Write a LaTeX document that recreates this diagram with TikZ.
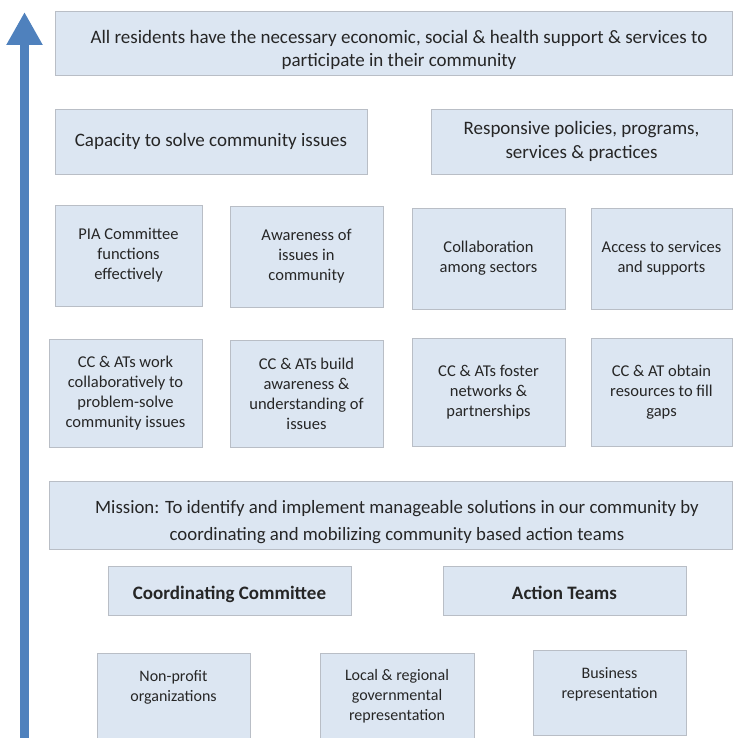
\documentclass[tikz,border=0pt]{standalone}
\usepackage{fontspec}
\setmainfont{Carlito}
\usetikzlibrary{arrows.meta, positioning}
\definecolor{boxfill}{HTML}{DCE6F2}
\definecolor{boxline}{HTML}{B9BEC6}
\definecolor{arrowblue}{HTML}{4F81BD}

\begin{document}
\begin{tikzpicture}[
  x=1pt, y=-1pt,
  every node/.style={align=center, text=black!85},
  box/.style={draw=boxline, fill=boxfill, line width=0.9pt, inner sep=2pt},
  bigtxt/.style={font=\fontsize{19}{23}\selectfont},
  midtxt/.style={font=\fontsize{19}{24}\selectfont},
  smalltxt/.style={font=\fontsize{16.5}{20}\selectfont},
  tinytxt/.style={font=\fontsize{16}{20}\selectfont},
  misstxt/.style={font=\fontsize{18.8}{27}\selectfont},
  headtxt/.style={font=\fontsize{19}{20}\selectfont\bfseries, text height=19pt, text depth=1pt},
  upward/.style={-{Triangle[length=33pt, width=34pt]}, line width=9pt, arrowblue}
]
\useasboundingbox (0,0) rectangle (732,738);

% outcomes
\node[box, minimum width=677pt, minimum height=64pt] (goal) at (393.5,43) {};
\node[bigtxt] (goaltxt) at (399,49.5) {All residents have the necessary economic, social \& health support \& services to\\participate in their community};

\node[box, midtxt, minimum width=312pt, minimum height=65pt] (capacity) at (211,141.5) {Capacity to solve community issues};
\node[box, midtxt, minimum width=301pt, minimum height=65pt] (policies) at (581.5,141.5) {Responsive policies, programs,\\services \& practices};

\node[box, smalltxt, minimum width=147pt, minimum height=101pt] (pia) at (128.5,255.5) {PIA Committee\\functions\\effectively};
\node[box, smalltxt, minimum width=153pt, minimum height=101pt] (aware) at (306.5,256.5) {Awareness of\\issues in\\community};
\node[box, smalltxt, minimum width=153pt, minimum height=101pt] (collab) at (488.5,258.5) {Collaboration\\among sectors};
\node[box, smalltxt, minimum width=141pt, minimum height=101pt] (access) at (661.5,258.5) {Access to services\\and supports};

% activities
\node[box, smalltxt, minimum width=153pt, minimum height=108pt] (ccwork) at (125.5,393) {CC \& ATs work\\collaboratively to\\problem-solve\\community issues};
\node[box, smalltxt, minimum width=153pt, minimum height=107pt] (ccbuild) at (306.5,393.5) {CC \& ATs build\\awareness \&\\understanding of\\issues};
\node[box, smalltxt, minimum width=153pt, minimum height=108pt] (ccfoster) at (488.5,392) {CC \& ATs foster\\networks \&\\partnerships};
\node[box, smalltxt, minimum width=141pt, minimum height=108pt] (ccobtain) at (661.5,392) {CC \& AT obtain\\resources to fill\\gaps};

% mission and structure
\node[box, minimum width=683pt, minimum height=68pt] (mission) at (390.5,515) {};
\node[misstxt] (missiontxt) at (397,522) {Mission: To identify and implement manageable solutions in our community by\\coordinating and mobilizing community based action teams};

\node[box, headtxt, minimum width=243pt, minimum height=49pt] (cc) at (229.5,590.5) {Coordinating Committee};
\node[box, headtxt, minimum width=243pt, minimum height=49pt] (at) at (564.5,590.5) {Action Teams};

\node[box, minimum width=153pt, minimum height=87pt] (nonprofit) at (173.5,696.5) {};
\node[tinytxt] (nonprofittxt) at (173.5,687) {Non-profit\\organizations};
\node[box, tinytxt, minimum width=154pt, minimum height=87pt] (localgov) at (397,696.5) {Local \& regional\\governmental\\representation};
\node[box, minimum width=153pt, minimum height=85pt] (business) at (609.5,692.5) {};
\node[tinytxt] (businesstxt) at (609.5,684) {Business\\representation};

\coordinate (base) at (24.5,745);
\coordinate (tip) at (24.5,12);
\draw[upward] (base) -- (tip);

\end{tikzpicture}
\end{document}
